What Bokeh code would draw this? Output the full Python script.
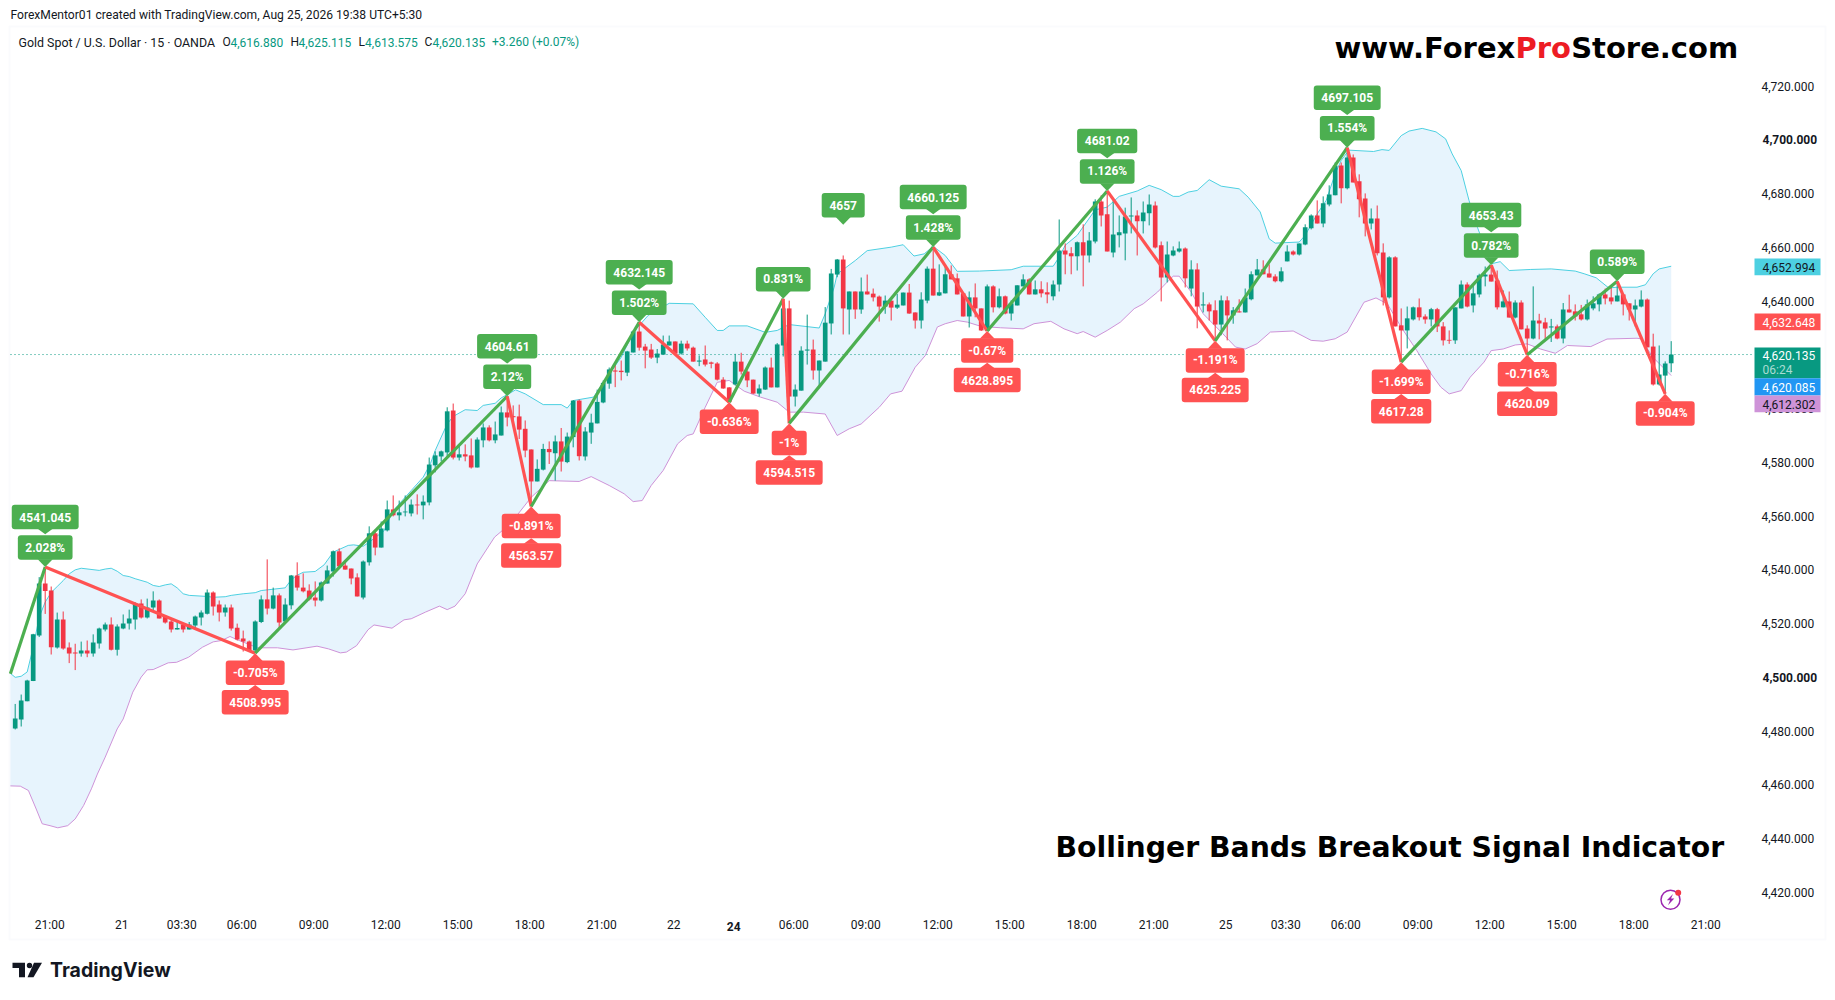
from bokeh.plotting import figure
from bokeh.embed import file_html
from bokeh.resources import INLINE
from bokeh.core.properties import value
from bokeh.models import Label, BoxAnnotation, PolyAnnotation, FixedTicker, Range1d

OPEN = [4481.0,4484.3,4491.1,4498.6,4515.6,4534.9,4532.3,4511.1,4521.5,4511.1,
4509.2,4508.9,4510.0,4508.9,4512.6,4517.8,4519.7,4510.3,4518.2,4520.0,
4521.5,4527.5,4522.3,4526.0,4528.6,4522.6,4520.8,4517.8,4519.7,4517.8,
4519.3,4522.3,4523.7,4531.6,4527.1,4524.1,4526.0,4518.5,4514.5,4513.3,
4510.0,4520.6,4529.0,4525.6,4530.5,4520.8,4526.8,4537.9,4533.4,4532.3,
4529.7,4528.6,4534.9,4539.4,4546.9,4541.6,4540.5,4537.2,4529.7,4542.8,
4553.6,4548.3,4554.7,4562.5,4560.3,4561.4,4561.0,4564.3,4564.0,4565.1,
4578.9,4582.2,4583.7,4599.3,4581.8,4583.0,4582.6,4578.1,4588.2,4593.0,
4588.2,4590.0,4598.6,4597.2,4597.1,4592.5,4584.8,4572.9,4577.3,4585.0,
4583.4,4587.8,4580.1,4589.4,4603.0,4582.2,4591.1,4594.5,4602.3,4609.3,
4614.2,4614.1,4613.4,4620.9,4628.7,4623.1,4622.0,4619.0,4620.1,4623.5,
4625.0,4620.5,4624.2,4622.7,4617.5,4618.3,4617.2,4616.8,4610.8,4607.9,
4609.0,4617.5,4613.8,4610.8,4605.6,4607.1,4615.3,4607.9,4623.5,4637.3,
4604.5,4606.7,4621.6,4622.0,4614.2,4617.5,4631.7,4649.9,4655.5,4636.9,
4643.6,4636.9,4643.6,4642.8,4641.7,4638.0,4640.2,4637.6,4638.4,4643.2,
4635.8,4632.8,4640.2,4652.1,4642.1,4642.9,4650.0,4648.5,4642.9,4634.3,
4641.4,4637.3,4628.9,4645.5,4637.7,4641.8,4635.4,4638.4,4645.5,4648.1,
4642.5,4644.4,4643.3,4641.8,4646.2,4658.9,4657.8,4656.7,4661.9,4657.0,
4662.2,4677.1,4672.3,4658.1,4664.5,4665.2,4671.5,4671.9,4669.7,4672.7,
4675.6,4660.8,4648.8,4657.0,4658.5,4659.6,4644.7,4651.8,4638.4,4638.8,
4636.6,4631.3,4640.3,4634.7,4636.2,4635.8,4640.7,4649.6,4651.8,4650.3,
4649.2,4647.4,4654.8,4658.5,4657.4,4661.1,4667.1,4671.9,4668.9,4676.0,
4679.4,4690.5,4682.0,4693.5,4684.6,4678.2,4668.9,4670.8,4658.1,4641.4,
4656.3,4631.0,4629.1,4633.2,4637.7,4634.3,4633.2,4637.0,4630.6,4625.6,
4625.4,4637.3,4646.2,4638.4,4642.5,4649.2,4649.9,4647.7,4637.7,4639.9,
4633.9,4639.5,4629.8,4626.1,4632.8,4632.1,4630.2,4630.6,4626.1,4636.9,
4636.2,4635.1,4633.2,4637.3,4638.8,4642.5,4641.4,4639.9,4642.5,4639.2,
4636.9,4638.0,4640.6,4623.1,4609.0,4612.3,4616.88]

HIGH = [4490.1,4493.6,4499.1,4516.2,4537.3,4541.05,4533.8,4524.1,4524.5,4513.0,
4512.5,4513.3,4513.7,4516.0,4518.5,4520.4,4522.3,4519.7,4523.4,4525.2,
4527.9,4529.0,4529.3,4532.0,4529.0,4523.0,4521.5,4521.2,4520.0,4520.6,
4523.0,4524.9,4532.7,4532.0,4528.6,4527.1,4527.1,4520.0,4517.4,4513.7,
4521.2,4530.5,4543.9,4533.4,4531.2,4529.4,4538.1,4542.8,4538.7,4534.6,
4535.7,4535.7,4541.6,4547.2,4548.0,4542.8,4540.5,4538.7,4543.5,4556.2,
4555.0,4558.0,4565.8,4567.7,4565.8,4567.7,4566.2,4568.1,4567.7,4581.8,
4584.1,4584.4,4600.5,4601.9,4586.3,4586.7,4588.9,4589.3,4594.5,4593.8,
4595.2,4600.8,4604.61,4601.2,4601.5,4595.6,4584.8,4581.1,4586.9,4587.8,
4590.0,4592.8,4591.1,4603.2,4603.4,4593.1,4598.1,4607.1,4610.5,4615.3,
4617.3,4617.9,4621.5,4629.1,4632.145,4624.1,4624.1,4622.2,4627.2,4627.2,
4625.0,4625.3,4625.3,4623.1,4619.8,4623.5,4617.5,4617.3,4611.7,4608.0,
4620.4,4620.8,4614.2,4610.8,4609.0,4615.7,4619.0,4624.4,4640.9,4640.2,
4609.0,4623.2,4635.0,4625.7,4617.9,4637.8,4652.0,4655.7,4657.0,4643.6,
4643.6,4648.8,4649.9,4644.7,4642.1,4642.1,4640.2,4642.7,4643.2,4646.4,
4635.8,4643.3,4652.9,4660.125,4653.7,4653.7,4653.3,4650.3,4642.9,4643.6,
4646.6,4637.3,4646.2,4645.9,4644.7,4642.1,4640.3,4645.9,4650.0,4648.5,
4647.7,4647.4,4647.0,4647.7,4670.4,4661.5,4660.1,4662.2,4668.6,4665.7,
4677.9,4679.4,4681.02,4677.5,4671.9,4674.8,4678.6,4673.8,4677.1,4679.7,
4677.1,4662.2,4662.2,4660.4,4662.2,4660.0,4655.2,4654.1,4643.3,4639.5,
4640.3,4642.1,4641.8,4637.8,4640.7,4644.7,4651.1,4655.7,4655.2,4653.7,
4650.0,4652.6,4660.8,4658.9,4661.5,4668.6,4672.3,4677.5,4679.0,4683.1,
4691.6,4691.6,4697.105,4694.6,4687.2,4680.1,4674.5,4675.6,4661.5,4656.7,
4656.7,4637.3,4638.0,4638.0,4641.0,4635.1,4637.5,4637.5,4632.2,4629.1,
4637.7,4647.7,4647.0,4646.2,4650.2,4652.9,4653.43,4651.4,4644.0,4643.6,
4640.3,4640.3,4631.0,4645.5,4635.3,4633.8,4633.4,4631.3,4639.3,4642.4,
4638.8,4638.6,4640.6,4641.8,4642.9,4644.7,4645.2,4647.4,4642.5,4639.2,
4640.6,4644.0,4641.0,4627.9,4623.5,4617.6,4625.115]

LOW = [4480.6,4481.7,4491.1,4498.6,4515.0,4523.6,4508.5,4510.7,4510.3,4505.3,
4502.7,4507.7,4507.5,4507.7,4510.7,4517.1,4510.0,4508.1,4517.9,4517.8,
4517.8,4521.9,4521.9,4524.9,4521.9,4520.0,4516.7,4517.8,4516.7,4517.8,
4518.2,4519.3,4523.4,4523.0,4520.8,4522.6,4517.4,4513.7,4509.6,4509.6,
4508.995,4520.2,4523.4,4525.3,4518.2,4520.1,4525.3,4532.3,4531.6,4528.6,
4526.4,4528.2,4534.9,4537.5,4540.9,4540.1,4534.6,4530.1,4529.0,4541.6,
4545.4,4548.3,4554.3,4559.9,4558.4,4559.9,4559.9,4560.6,4558.8,4564.0,
4576.3,4580.4,4582.2,4581.1,4580.7,4580.4,4577.7,4578.1,4585.6,4587.8,
4587.1,4590.0,4593.4,4595.6,4588.7,4581.9,4563.57,4572.9,4577.0,4579.4,
4573.2,4576.6,4579.7,4585.6,4580.7,4580.7,4586.9,4594.5,4602.0,4607.4,
4608.0,4610.5,4612.1,4620.9,4621.6,4615.0,4618.5,4616.9,4620.1,4623.5,
4620.1,4620.1,4621.6,4617.5,4615.8,4615.7,4615.0,4610.5,4607.4,4602.4,
4608.6,4612.7,4608.0,4605.5,4604.5,4607.0,4607.9,4607.9,4619.4,4594.515,
4600.8,4606.7,4616.4,4610.8,4608.6,4617.5,4627.6,4648.9,4627.6,4627.6,
4633.4,4635.3,4642.5,4639.9,4632.4,4635.3,4632.8,4637.1,4638.4,4635.3,
4629.8,4629.8,4639.2,4642.1,4641.9,4642.9,4648.1,4642.5,4634.3,4630.2,
4634.0,4628.9,4628.895,4635.8,4637.3,4635.1,4632.8,4638.4,4645.5,4642.5,
4642.5,4641.4,4639.2,4640.3,4643.6,4650.0,4650.0,4651.4,4645.5,4654.4,
4661.5,4667.8,4658.5,4656.3,4660.0,4655.2,4665.2,4657.0,4665.2,4668.2,
4659.6,4639.9,4647.0,4656.7,4658.1,4645.1,4641.8,4629.9,4635.8,4632.8,
4625.225,4627.3,4625.4,4631.6,4635.8,4635.8,4640.3,4649.6,4650.0,4648.8,
4647.0,4647.0,4654.8,4657.0,4657.0,4660.8,4666.7,4668.9,4667.5,4675.3,
4679.4,4676.4,4681.6,4684.2,4671.2,4664.1,4666.7,4657.0,4638.4,4641.0,
4630.6,4617.28,4622.4,4632.8,4632.8,4631.6,4630.6,4628.5,4623.5,4624.1,
4624.1,4637.3,4637.7,4635.8,4641.4,4645.5,4647.3,4636.9,4637.7,4633.9,
4633.6,4629.5,4620.09,4625.8,4625.8,4625.4,4624.8,4625.8,4624.3,4635.8,
4632.8,4632.8,4632.8,4636.6,4636.2,4638.8,4638.8,4639.9,4634.7,4632.8,
4630.6,4637.7,4622.8,4608.6,4608.6,4605.5,4613.575]

CLOSE = [4484.7,4491.4,4498.8,4516.0,4534.9,4532.1,4511.2,4521.5,4510.7,4508.9,
4508.9,4510.0,4508.9,4513.0,4518.2,4519.7,4510.3,4518.9,4520.0,4521.9,
4527.5,4522.3,4526.0,4528.6,4521.9,4520.4,4517.8,4518.4,4517.8,4519.7,
4522.6,4524.1,4531.6,4526.4,4524.1,4526.0,4518.2,4514.1,4513.3,4510.0,
4520.8,4529.0,4525.6,4530.5,4520.4,4527.1,4537.9,4533.4,4532.0,4529.0,
4528.6,4535.3,4539.8,4546.9,4541.3,4540.1,4536.8,4530.1,4543.1,4553.6,
4548.3,4555.4,4562.5,4560.3,4561.4,4561.7,4564.3,4564.0,4565.4,4579.2,
4582.6,4584.1,4599.0,4581.8,4583.0,4582.2,4578.1,4588.5,4593.0,4588.2,
4590.4,4598.6,4596.7,4596.8,4592.2,4584.4,4572.9,4577.6,4585.0,4583.8,
4587.8,4580.3,4589.6,4603.0,4582.3,4591.5,4594.8,4602.5,4609.6,4614.6,
4613.8,4613.6,4621.3,4628.7,4622.7,4621.6,4619.0,4620.5,4623.9,4625.0,
4620.5,4624.2,4622.4,4617.5,4617.9,4616.4,4616.7,4610.8,4607.5,4602.4,
4617.5,4613.8,4610.5,4605.6,4607.5,4615.3,4607.9,4623.9,4637.3,4604.5,
4607.1,4621.6,4622.0,4614.2,4617.9,4632.0,4650.3,4655.5,4637.3,4643.6,
4636.9,4643.6,4642.5,4641.4,4638.0,4640.2,4637.6,4638.7,4643.2,4635.4,
4632.8,4640.6,4652.1,4642.1,4643.3,4650.0,4648.1,4642.5,4634.3,4641.4,
4637.3,4629.1,4645.5,4637.7,4641.8,4635.4,4639.2,4645.9,4648.1,4642.5,
4644.4,4642.9,4642.5,4646.2,4658.9,4657.4,4656.7,4661.9,4657.0,4662.6,
4677.1,4671.9,4658.5,4664.8,4665.6,4671.5,4671.9,4669.7,4673.0,4676.0,
4660.0,4648.8,4657.4,4658.9,4659.6,4648.5,4651.8,4638.0,4638.8,4636.2,
4631.3,4640.3,4634.7,4636.6,4635.8,4641.4,4650.0,4651.8,4650.0,4648.8,
4647.4,4651.1,4658.5,4657.4,4661.5,4667.5,4671.9,4668.9,4676.4,4679.7,
4690.5,4682.0,4693.5,4684.2,4677.9,4668.9,4670.8,4657.8,4641.4,4656.3,
4630.6,4629.1,4633.6,4637.7,4634.0,4633.2,4637.0,4630.6,4625.4,4625.3,
4637.7,4646.2,4638.0,4642.9,4649.6,4649.9,4647.3,4637.7,4639.9,4633.9,
4639.5,4629.5,4626.1,4632.8,4631.7,4629.8,4630.6,4626.1,4636.9,4635.8,
4634.3,4633.2,4638.8,4639.2,4642.5,4641.0,4639.9,4642.1,4638.8,4636.9,
4638.4,4640.6,4622.8,4609.0,4612.7,4616.8,4620.135]

UPPER_I = [-0.8,0,1,2,3,4,5,6,7,8,9,10,11,14,15,16,17,18,19,20,22,23,24,25,26,27,28,29,32,33,35,36,38,40,
41,45,46,47,48,50,51.5,53,54,55.5,56.4,58,59,61.5,63,66,68,69.2,70,71,72,73,75,77,78,80,81,82,83.4,85,88,91,92,93,
96.4,98,101,103,105.5,109,113,115,117,118,119,122,125,127,129,134,135,136.5,137,140,142,146,148,149.8,151.5,153,155,157,
160.7,166,168,173,174,175,177,180,182,184,187,189,191,193,194,195.5,197,199,201,204,205.5,207.5,209,210,214,215,217,218.5,
220,221,222.3,226.4,227.8,229,231,232.3,234.5,236.8,238.4,239.5,241,242.3,243.7,246,247.5,249,252.6,256,260,261.5,263.5,
265.6,267,270.3,271.7,273,274,276]
UPPER = [4501.5,4500,4500.4,4502,4511.2,4522.4,4528,4531.6,4533.8,4536,4538.5,4540,4540.6,4539.8,4540.3,4540.6,4539.5,4537.9,4537.5,4536.7,4535.4,4534.2,4533.8,4534.4,4534.8,4533.3,4531.1,4530.5,4530.1,4529.8,4530,4530.5,4531.1,4531.5,
4532.3,4533.3,4536.3,4538,4539.1,4539.4,4541.9,4546.6,4547.6,4549.1,4549.3,4548.8,4550.3,4554.6,4562.1,4569.5,4574.5,4579.5,4584.4,4589.4,4594.3,4597.1,4599.6,4599.3,4601.2,4602,4604,4605.2,4607,4605.5,4601.5,4601.5,4600.2,4603,
4604.3,4609.8,4619.1,4628.4,4634.7,4639.2,4639,4634,4629.1,4629.1,4630.8,4630.8,4628.4,4629.1,4631.3,4630,4635.3,4645.2,4650.1,4655.1,4658.8,4660.1,4661,4656.8,4657.6,4660.4,4657,4651.1,
4651.2,4651.7,4653,4653,4656.4,4660.8,4664.5,4674,4675,4679,4681,4683.1,4681.5,4679,4679,4680.6,4681.2,4685.2,4682.8,4681.8,4678.7,4673.2,4663.2,4661.6,4662,4664.5,4672.5,4677.5,
4687.4,4692.4,4696.2,4695.7,4696.4,4696.1,4701.6,4703.3,4704.3,4703,4700.4,4694.8,4688.6,4677.5,4667.5,4653.9,4654.7,4651.4,4651.8,4652,4651.2,4650.2,4648.7,
4644.9,4645.2,4645.2,4646.1,4650.2,4652,4652.994]

LOWER_I = [-0.8,0.85,2.2,3.5,4.5,5.8,7.1,8.75,10,11.4,12.7,13.7,15,17,18,19.6,21,22,23,25.5,26.9,28.9,31.2,33,34.4,35.8,37,40.4,43.7,46.3,50.3,52.2,54.2,55.2,56.9,58.8,59.8,62.8,64.8,66,68.4,70.7,72,73.3,75,77,79.9,82.5,
86,89,94,96,99,101.5,103,104.5,106,108,110.4,112,113,115,117,119,121.5,124.2,127,129,131.4,135,137,139,141,144,145.9,147.8,150,151.7,153.7,155,157,158.7,161,164.2,168,169.8,172.6,174.8,177,178,180,182,184.2,186.5,188,190.4,192,193,194,196,198,201,203.4,205,207,209.2,213,216,218,220,222,224.8,226.8,228.7,231,233.6,236,237.6,239,241,242.5,244.8,246,248,250,252,254.2,256.7,258.7,262.6,265.3,270.3,270.9,273,276]
LOWER = [4459.6,4459.5,4457.9,4451,4445.5,4444.8,4444,4444.8,4447.3,4452.3,4458.5,4464,4470.3,4480.8,4484.5,4494.5,4500.1,4502.8,4502.9,4505.4,4505.6,4507.5,4511.2,4513.2,4513.7,4515.2,4514,4511,4511,4510.2,4511.6,4510.6,4509.1,4509.4,4511.8,4517.7,4519.5,4518.3,4521.4,4521.8,4524.3,4526.5,4525.2,4526.5,4531.1,4542.2,4552.2,4557.1,
4567,4573.2,4572.9,4574.7,4571.4,4568.3,4565.4,4565.8,4571.4,4577,4586.9,4590,4590.6,4600.5,4609.8,4610.5,4606.5,4604.3,4602.4,4598.7,4598.7,4598,4590,4592.5,4594.3,4600.5,4605.5,4606.5,4615.4,4619.8,4630.4,4631.6,4632.8,4632.2,4630.6,4630.1,4629.7,4631.6,4632.5,4629.7,4627.9,4628.7,4626.6,4629.1,4632.2,4637.2,4639,4643.4,4647.1,4649.3,4649.3,4643.4,4635.3,4628.5,4622.9,4622.2,4624.2,4628.5,4628.9,4625.4,4625.1,4626,4628.5,4639.6,4641.2,4639,4630.3,4621.6,4612.9,4608,4605.5,4606.7,4611.7,4617.3,4621.6,4622.2,4623.7,4624.1,4622.2,4620.6,4623.5,4623.1,4625.9,4626.2,4626,4619,4612.302]

PIVOT_I = [5,40,82,86,104,119,128,129,153,162,182,200,222,231,246,252,267,275]
PIVOT_P = [4541.045,4508.995,4604.61,4563.57,4632.145,4602.4,4640.9,4594.515,4660.125,4628.895,4681.02,4625.225,4697.105,4617.28,4653.43,4620.09,4647.4,4605.5]
PIVOT_PCT = ["2.028%","-0.705%","2.12%","-0.891%","1.502%","-0.636%","0.831%","-1%","1.428%","-0.67%","1.126%","-1.191%","1.554%","-1.699%","0.782%","-0.716%","0.589%","-0.904%"]
PIVOT_TXT = ["4541.045","4508.995","4604.61","4563.57","4632.145","","","4594.515","4660.125","4628.895","4681.02","4625.225","4697.105","4617.28","4653.43","4620.09","",""]
ZIG_START = (-0.8, 4501.3)
LONE_I, LONE_P, LONE_TXT = 138, 4657.0, "4657"

PRICE_TICKS = [4420,4440,4460,4480,4500,4520,4540,4560,4580,4600,4620,4640,4660,4680,4700,4720]
BOLD_PRICES = [4500,4700]
TIME_I = [6,18,28,38,50,62,74,86,98,110,120,130,142,154,166,178,190,202,212,222,234,246,258,270,282]
TIME_TXT = ["21:00","21","03:30","06:00","09:00","12:00","15:00","18:00","21:00","22","24","06:00","09:00","12:00","15:00","18:00","21:00","25","03:30","06:00","09:00","12:00","15:00","18:00","21:00"]
BOLD_TIME = ["24"]

UP, DOWN = "#089981", "#F23645"
SIG_UP, SIG_DN = "#4CAF50", "#FF5252"
CYAN, PURPLE, FILL = "#4DD0E1", "#CE93D8", "#E3F2FD"
INK = "#131722"
FONT = "Roboto"

# pixel helpers (page pixels -> data), fixed by the axis calibration
PX0, PXS, PY0, PYS = 14.7, 6.0, 85.7, 2.687
X = lambda px: (px - PX0) / PXS
Y = lambda py: 4720 - (py - PY0) / PYS
FL, FR, FT, FB = 10, 1751, 27, 906
W, H = 1830, 995
TICK_SHIFT = 0.25  # labels sit slightly left of their candle

# the frame fills the canvas; both axes are pinned at the edges of the price area
p = figure(width=W, height=H, output_backend="svg", toolbar_location=None,
           x_range=Range1d(X(0), X(W)), y_range=Range1d(Y(H), Y(0)),
           y_axis_location="right", min_border_left=0, min_border_right=0,
           min_border_top=0, min_border_bottom=0, outline_line_color=None,
           background_fill_color="white", border_fill_color="white")
p.grid.visible = False

yax = p.yaxis[0]
yax.fixed_location = X(FR)
yax.ticker = FixedTicker(ticks=PRICE_TICKS)
yax.major_label_overrides = {t: ("" if t in BOLD_PRICES else f"{t:,.3f}") for t in PRICE_TICKS}
yax.axis_line_color = None; yax.major_tick_line_color = None; yax.minor_tick_line_color = None
yax.major_label_text_font = FONT; yax.major_label_text_font_size = "12px"
yax.major_label_text_color = INK; yax.major_label_standoff = 4

xax = p.xaxis[0]
xax.fixed_location = Y(FB)
xax.ticker = FixedTicker(ticks=[t - TICK_SHIFT for t in TIME_I])
xax.major_label_overrides = {t - TICK_SHIFT: ("" if s in BOLD_TIME else s) for t, s in zip(TIME_I, TIME_TXT)}
xax.axis_line_color = None; xax.major_tick_line_color = None; xax.minor_tick_line_color = None
xax.major_label_text_font = FONT; xax.major_label_text_font_size = "12px"
xax.major_label_text_color = INK; xax.major_label_standoff = 5

def txt(s, px, py, color=INK, size="12px", style="normal", font=FONT, align="left"):
    p.add_layout(Label(x=X(px), y=Y(py), text=s, text_color=color, text_font_size=size, text_font=font,
                       text_font_style=style, text_align=align, text_baseline="middle"))

def box(l, r, t, b, color, radius=0):
    p.add_layout(BoxAnnotation(left=X(l), right=X(r), top=Y(t), bottom=Y(b), fill_color=color, fill_alpha=1,
                               line_color=None, border_radius=radius, level="annotation"))

# panel border
p.add_layout(BoxAnnotation(left=X(9), right=X(1825), top=Y(26), bottom=Y(939), fill_alpha=0, fill_color=None,
                           line_color="#F0F3FA", line_width=2, level="underlay"))

# bands
p.patch(UPPER_I + LOWER_I[::-1], UPPER + LOWER[::-1], fill_color=FILL, fill_alpha=0.85, line_color=None)
p.line(UPPER_I, UPPER, line_color=CYAN, line_width=1)
p.line(LOWER_I, LOWER, line_color=PURPLE, line_width=1)

# last-price line
p.segment([X(FL)], [CLOSE[-1]], [X(FR)], [CLOSE[-1]], line_color=UP, line_dash="1 3", line_width=1)

# candles
idx = list(range(len(OPEN)))
up = [i for i in idx if CLOSE[i] >= OPEN[i]]
dn = [i for i in idx if CLOSE[i] < OPEN[i]]
for sel, col in ((up, UP), (dn, DOWN)):
    xs = sel
    p.segment(xs, [HIGH[i] for i in sel], xs, [LOW[i] for i in sel], line_color=col, line_width=1)
    p.vbar(xs, 0.78, [OPEN[i] for i in sel], [CLOSE[i] for i in sel], fill_color=col, line_color=None)

# zigzag
zx = [ZIG_START[0]] + PIVOT_I
zy = [ZIG_START[1]] + PIVOT_P
for k in range(len(zx) - 1):
    c = SIG_UP if zy[k+1] > zy[k] else SIG_DN
    p.line(zx[k:k+2], zy[k:k+2], line_color=c, line_width=3.2, line_alpha=1)

# signal labels
CHAR = {".": 3.8, "%": 7.9, "-": 4.2}
def tag_w(s):
    return 16.2 + sum(CHAR.get(ch, 6.7) for ch in s)

BOX_H, TIP_H, GAP = 24.5, 7.3, 5.0
def tag(i, price, s, off, sign, color, tip):
    # sign=+1 above the pivot, -1 below; off = pixels from the pivot to the pointer tip
    w = tag_w(s)
    base = off + tip
    far = base + BOX_H
    x0 = X(PX0 + PXS * i)
    yp = lambda d: price + sign * d / PYS
    dx = w / 2 / PXS
    p.quad(left=x0 - dx, right=x0 + dx, top=max(yp(base), yp(far)), bottom=min(yp(base), yp(far)),
           fill_color=color, line_color=None, border_radius=3)
    tri = 7.5 / PXS
    p.patch([x0 - tri, x0 + tri, x0], [yp(base + 0.5), yp(base + 0.5), yp(off)], fill_color=color, line_color=None)
    p.text([i], [yp(base + BOX_H / 2)], text=[s], text_color="white", text_font=value(FONT), text_font_size="12px",
           text_align="center", text_baseline="middle", text_font_style="bold")

for i, pr, pct, t in zip(PIVOT_I, PIVOT_P, PIVOT_PCT, PIVOT_TXT):
    sign = 1 if not pct.startswith("-") else -1
    c = SIG_UP if sign > 0 else SIG_DN
    tag(i, pr, pct, 0, sign, c, TIP_H)
    if t:
        tag(i, pr, t, TIP_H + BOX_H + (1 if sign > 0 else 0), sign, c, GAP)
tag(LONE_I, LONE_P, LONE_TXT, 30.7, 1, SIG_UP, TIP_H)

# alert icon
p.scatter([X(1670)], [Y(899.3)], size=19, marker="circle", fill_color=None, line_color="#9C27B0", line_width=1.5)
bolt = [(1672.5,893.5),(1666.3,899.8),(1669.6,899.8),(1667.5,904.8),(1673.8,898),(1670.5,898)]
p.patch([X(a) for a, _ in bolt], [Y(b) for _, b in bolt], fill_color="#9C27B0", line_color=None)
p.scatter([X(1677.7)], [Y(892.3)], size=6, marker="circle", fill_color="#F23645", line_color=None)

# last-price tags on the price scale
for t, b, c in ((258, 274.7, CYAN), (313, 329.7, SIG_DN), (347, 377.7, UP), (377.7, 395, "#2196F3"), (395, 411.7, PURPLE)):
    box(1754, 1820, t, b, c)
txt("4,652.994", 1762, 266.5)
txt("4,632.648", 1762, 321.5, "white")
txt("4,620.135", 1762, 354.5, "white")
txt("06:24", 1762, 369, "#A8DCD3")
txt("4,620.085", 1762, 386.5, "white")
txt("4,612.302", 1762, 403.5)

for v in BOLD_PRICES:
    txt(f"{v:,.3f}", 1762, PY0 + (4720 - v) * PYS, style="bold")
for t, s in zip(TIME_I, TIME_TXT):
    if s in BOLD_TIME:
        txt(s, PX0 + PXS * (t - TICK_SHIFT), 925.7, style="bold", align="center")

# header texts
txt("ForexMentor01 created with TradingView.com, Aug 25, 2026 19:38 UTC+5:30", 10, 14.7, size="12.1px")
txt("Gold Spot / U.S. Dollar · 15 · OANDA", 18, 41.7, size="12.4px")
for s, px, c in (("O", 222, INK), ("4,616.880", 230, UP), ("H", 290, INK), ("4,625.115", 298, UP),
                 ("L", 358, INK), ("4,613.575", 364.6, UP), ("C", 424, INK), ("4,620.135", 432, UP),
                 ("+3.260 (+0.07%)", 491.5, UP)):
    txt(s, px, 41.7, c)

# watermark texts
WM = "DejaVu Sans"
txt("www.Forex", 1334, 47, "black", "29px", "bold", WM)
txt("Pro", 1515, 47, "#ED1C24", "29px", "bold", WM)
txt("Store.com", 1570.7, 47, "black", "29px", "bold", WM)
txt("Bollinger Bands Breakout Signal Indicator", 1055, 846.7, "black", "28.3px", "bold", WM)

# TradingView logo
for shape in ([(12,962.3),(24.5,962.3),(24.5,976.7),(18.5,976.7),(18.5,967.5),(12,967.5)],
              [(33.5,962.3),(41.5,962.3),(33,976.7),(27,976.7)]):
    p.add_layout(PolyAnnotation(xs=[X(a) for a, _ in shape], ys=[Y(b) for _, b in shape], fill_color=INK,
                                fill_alpha=1, line_color=None))
box(26.3, 31.7, 962.3, 967.7, INK, radius=3)
txt("TradingView", 49.5, 969, INK, "19.5px", "bold", "Inter")

open("out.html", "w").write(file_html(p, INLINE))
